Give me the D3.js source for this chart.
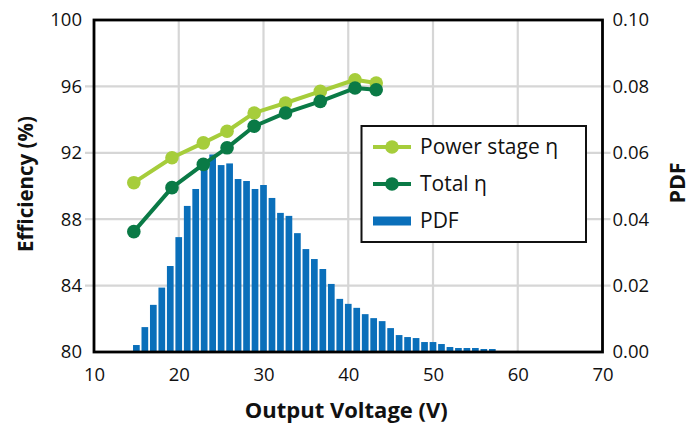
<!DOCTYPE html>
<html>
<head>
<meta charset="utf-8">
<script src="https://cdn.jsdelivr.net/npm/d3@7"></script>
<style>
  html, body { margin: 0; padding: 0; background: #fff; }
  svg { display: block; }
  text { font-family: "Open Sans", "Noto Sans", sans-serif; fill: #111; }
</style>
</head>
<body>
<svg id="chart" width="695" height="426"></svg>
<script>
// ---- data ----
const pdfVoltages = [15,16,17,18,19,20,21,22,23,24,25,26,27,28,29,30,31,32,33,34,35,36,37,38,39,40,41,42,43,44,45,46,47,48,49,50,51,52,53,54,55,56,57];
const pdfValues = [0.0021,0.0075,0.0142,0.0194,0.0259,0.0346,0.0440,0.0491,0.0550,0.0595,0.0563,0.0568,0.0521,0.0515,0.0491,0.0503,0.0464,0.0419,0.0410,0.0358,0.0310,0.0280,0.0250,0.0205,0.0160,0.0145,0.0133,0.0114,0.0102,0.0093,0.0072,0.0051,0.0045,0.0042,0.0030,0.0030,0.0024,0.0015,0.0012,0.0012,0.0012,0.0009,0.0009];
const effVoltages = [14.7,19.2,22.9,25.7,28.9,32.6,36.7,40.8,43.3];
const powerStageEff = [90.2,91.7,92.6,93.3,94.4,95.0,95.7,96.4,96.2];
const totalEff = [87.25,89.9,91.3,92.3,93.6,94.4,95.1,95.9,95.8];
const xTicks = [10,20,30,40,50,60,70];
const yLeftTicks = [80,84,88,92,96,100];
const yRightTicks = [0.00,0.02,0.04,0.06,0.08,0.10];
const legendLabels = ["Power stage η","Total η","PDF"];

// ---- layout ----
const L = 94, R = 602.5, T = 20, B = 352;
const colLight = "#a6cd3b", colDark = "#0a7a46", colBar = "#0a6fba", colGrid = "#d6d6d6";

const svg = d3.select("#chart");
const x = d3.scaleLinear().domain([10,70]).range([L,R]);
const yL = d3.scaleLinear().domain([80,100]).range([B,T]);
const yR = d3.scaleLinear().domain([0,0.1]).range([B,T]);

// gridlines
const grid = svg.append("g");
grid.selectAll(".gx").data(xTicks.slice(1,-1)).join("line")
  .attr("x1", d => x(d)).attr("x2", d => x(d)).attr("y1", T).attr("y2", B)
  .attr("stroke", colGrid).attr("stroke-width", 2.2);
grid.selectAll(".gy").data(yLeftTicks.slice(1,-1)).join("line")
  .attr("x1", L - 9).attr("x2", R + 8).attr("y1", d => yL(d)).attr("y2", d => yL(d))
  .attr("stroke", colGrid).attr("stroke-width", 2.2);

// bars
const bw = 0.79;
svg.append("g").selectAll("rect").data(pdfVoltages).join("rect")
  .attr("x", (d) => x(d - bw/2))
  .attr("width", x(bw) - x(0))
  .attr("y", (d,i) => yR(pdfValues[i]))
  .attr("height", (d,i) => yR(0) - yR(pdfValues[i]))
  .attr("fill", colBar);

// lines
function series(vals, col) {
  const pts = effVoltages.map((v,i) => [v, vals[i]]);
  const line = d3.line().x(d => x(d[0])).y(d => yL(d[1]));
  svg.append("path").datum(pts).attr("d", line)
    .attr("fill","none").attr("stroke", col).attr("stroke-width", 4).attr("stroke-linejoin","round");
  svg.append("g").selectAll("circle").data(pts).join("circle")
    .attr("cx", d => x(d[0])).attr("cy", d => yL(d[1])).attr("r", 6.8).attr("fill", col);
}
series(powerStageEff, colLight);
series(totalEff, colDark);

// frame
svg.append("rect").attr("x", L).attr("y", T).attr("width", R - L).attr("height", B - T)
  .attr("fill","none").attr("stroke","#000").attr("stroke-width", 2.8);

// axes (labels only, via d3 axes)
const axB = d3.axisBottom(x).tickValues(xTicks).tickSize(0).tickPadding(16).tickFormat(d3.format("d"));
const gB = svg.append("g").attr("transform", `translate(0,${B})`).call(axB);
const axLft = d3.axisLeft(yL).tickValues(yLeftTicks).tickSize(0).tickPadding(12).tickFormat(d3.format("d"));
const gL = svg.append("g").attr("transform", `translate(${L},0)`).call(axLft);
const axRt = d3.axisRight(yR).tickValues(yRightTicks).tickSize(0).tickPadding(10).tickFormat(d3.format(".2f"));
const gR = svg.append("g").attr("transform", `translate(${R},0)`).call(axRt);
[gB, gL, gR].forEach(g => {
  g.select(".domain").remove();
  g.selectAll("text").attr("font-family", "'Open Sans', sans-serif").attr("font-size", 18.5).attr("fill", "#111");
});

// axis titles
svg.append("text").attr("x", (L+R)/2 - 2).attr("y", 418)
  .attr("text-anchor","middle").attr("font-weight","bold").attr("font-size", 22)
  .text("Output Voltage (V)");
svg.append("text").attr("transform", `translate(33,${(T+B)/2 - 2}) rotate(-90)`)
  .attr("text-anchor","middle").attr("font-weight","bold").attr("font-size", 20.5)
  .text("Efficiency (%)");
svg.append("text").attr("transform", `translate(685,${(T+B)/2 - 3}) rotate(-90)`)
  .attr("text-anchor","middle").attr("font-weight","bold").attr("font-size", 21.5)
  .text("PDF");

// legend
const lg = svg.append("g");
lg.append("rect").attr("x", 361.5).attr("y", 126).attr("width", 224.5).attr("height", 116)
  .attr("fill", "#fff").attr("stroke", "#111").attr("stroke-width", 2);
const rowY = [147, 184, 221];
[[colLight],[colDark]].forEach((c, i) => {
  lg.append("line").attr("x1", 373).attr("x2", 411).attr("y1", rowY[i]).attr("y2", rowY[i])
    .attr("stroke", c[0]).attr("stroke-width", 4);
  lg.append("circle").attr("cx", 392).attr("cy", rowY[i]).attr("r", 6.8).attr("fill", c[0]);
});
lg.append("rect").attr("x", 373).attr("y", rowY[2] - 4.5).attr("width", 38).attr("height", 9).attr("fill", colBar);
lg.selectAll(".lt").data(legendLabels).join("text")
  .attr("x", 420).attr("y", (d,i) => rowY[i]).attr("dy", "0.35em")
  .attr("font-size", 21).text(d => d);
</script>
</body>
</html>
